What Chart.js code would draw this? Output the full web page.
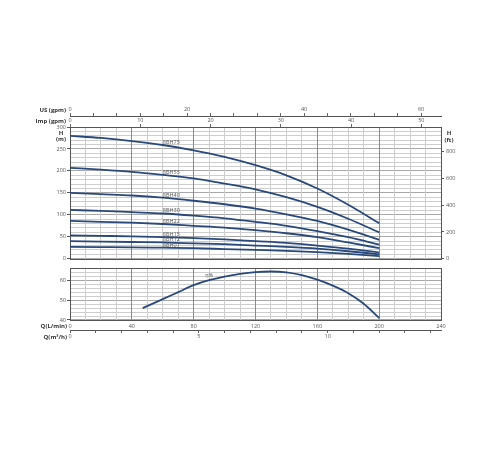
<!DOCTYPE html>
<html>
<head>
<meta charset="utf-8">
<script src="https://cdn.jsdelivr.net/npm/chart.js@4.4.1/dist/chart.umd.min.js"></script>
<style>
  html, body { margin: 0; padding: 0; background: #fff; }
  .box { position: absolute; left: 0; width: 500px; }
</style>
</head>
<body>
<div class="box" style="top:0;height:264px"><canvas id="head"></canvas></div>
<div class="box" style="top:264px;height:186px"><canvas id="eff"></canvas></div>
<script>
// flow points (L/min) where the head curves were read
const flow = [0, 20, 40, 60, 80, 100, 120, 140, 160, 180, 200];

const models = ["8BH75", "8BH55", "8BH40", "8BH30", "8BH22", "8BH15", "8BH12", "8BH07"];
const head75 = [280, 275, 268, 259, 247, 232, 213, 190, 160, 123, 81];
const head55 = [207, 203, 198, 191, 183, 171, 158, 140, 118, 91, 60];
const head40 = [150, 147, 144, 139, 132, 124, 114, 101, 86, 66, 43];
const head30 = [111, 109, 106, 103, 98, 92, 84, 75, 63, 49, 32];
const head22 = [86, 84, 82, 79, 75, 71, 65, 58, 49, 37, 24];
const head15 = [53, 52, 51, 49, 47, 44, 40, 36, 30, 23, 14];
const head12 = [40, 39, 38, 37, 35, 33, 30, 27, 23, 17, 10];
const head07 = [27, 26.5, 26, 25, 24, 22, 20, 18, 15, 11, 6];
const heads = [head75, head55, head40, head30, head22, head15, head12, head07];

// efficiency curve
const effFlow = [47, 60, 70, 80, 90, 100, 110, 120, 130, 140, 150, 160, 170, 180, 190, 200];
const effValues = [46, 50.5, 54, 57.5, 60, 61.8, 63.2, 64.1, 64.4, 64, 62.6, 60.3, 57.3, 53.5, 48.2, 41];

// tick labels of the feet axis
const feetTicks = [0, 200, 400, 600, 800];

// unit conversions for the secondary axes
const L_PER_USG = 3.78541;
const L_PER_IMPG = 4.54609;
const M_PER_FT = 0.3048;
const QMAX = 240;
const HMAX = 300;

const lineColor = "#29497a";
const tickFont = { family: "'Open Sans', sans-serif", size: 5.5 };
const tickColor = "#555";
const minorGrid = "#cdcdcd";
const majorGrid = "#8a8a8a";

const fixedWidth = (w) => (s) => { s.width = w; };
const fixedHeight = (h) => (s) => { s.height = h; };

// draws plot frame and the axis names that sit beside the axes
const frame = {
  id: "frame",
  beforeDatasetsDraw(chart, args, opts) {
    const { ctx, chartArea: a } = chart;
    ctx.save();
    ctx.strokeStyle = "#555";
    ctx.lineWidth = 1;
    ctx.strokeRect(Math.round(a.left) + 0.5, Math.round(a.top) + 0.5,
      Math.round(a.right - a.left), Math.round(a.bottom - a.top));
    ctx.fillStyle = "#333";
    ctx.font = "bold 6px 'Open Sans', sans-serif";
    (opts.titles || []).forEach(t => {
      ctx.textAlign = t.align || "right";
      ctx.textBaseline = "middle";
      ctx.fillText(t.text, t.x(chart), t.y(chart));
    });
    ctx.restore();
  },
  afterDatasetsDraw(chart, args, opts) {
    if (!opts.curveLabels) return;
    const { ctx } = chart;
    ctx.save();
    ctx.fillStyle = "#555";
    ctx.font = "5.5px 'Open Sans', sans-serif";
    ctx.textBaseline = "alphabetic";
    chart.data.datasets.forEach((ds, i) => {
      const pt = chart.getDatasetMeta(i).data[opts.curveLabels.index];
      ctx.textAlign = opts.curveLabels.align;
      ctx.fillText(ds.label, pt.x + opts.curveLabels.dx, pt.y + opts.curveLabels.dy);
    });
    ctx.restore();
  }
};

const xGrid = (ctx) => (ctx.tick.value % 40 === 0 ? majorGrid : minorGrid);

new Chart(document.getElementById("head"), {
  type: "line",
  data: {
    datasets: models.map((m, i) => ({
      label: m,
      data: flow.map((q, j) => ({ x: q, y: heads[i][j] })),
      borderColor: lineColor,
      borderWidth: 1.8,
      pointRadius: 0,
      cubicInterpolationMode: "monotone",
      xAxisID: "x",
      yAxisID: "y"
    }))
  },
  options: {
    responsive: true,
    maintainAspectRatio: false,
    animation: false,
    events: [],
    layout: { padding: { top: 105, bottom: 2, left: 0, right: 0 } },
    plugins: {
      legend: { display: false },
      tooltip: { enabled: false },
      frame: {
        titles: [
          { text: "US (gpm)", x: c => c.chartArea.left - 4, y: c => c.scales.us.bottom - 6 },
          { text: "Imp (gpm)", x: c => c.chartArea.left - 4, y: c => c.scales.imp.bottom - 6 },
          { text: "H", align: "center", x: c => c.chartArea.left - 9, y: c => c.chartArea.top + 6 },
          { text: "(m)", align: "center", x: c => c.chartArea.left - 9, y: c => c.chartArea.top + 12.5 },
          { text: "H", align: "center", x: c => c.chartArea.right + 8, y: c => c.chartArea.top + 6 },
          { text: "(ft)", align: "center", x: c => c.chartArea.right + 8, y: c => c.chartArea.top + 13 }
        ],
        curveLabels: { index: 3, dx: 0, dy: -1, align: "left" }
      }
    },
    scales: {
      y: {
        type: "linear", position: "left", min: 0, max: HMAX, z: -1,
        afterFit: fixedWidth(70),
        ticks: {
          stepSize: 10, autoSkip: false, padding: 1, font: tickFont, color: tickColor,
          callback: v => (v % 50 === 0 ? v : "")
        },
        grid: {
          color: c => (c.tick.value % 50 === 0 ? "#a8a8a8" : minorGrid),
          tickColor: c => (c.tick.value % 50 === 0 ? "#555" : "rgba(0,0,0,0)"),
          tickLength: 3
        },
        border: { display: false }
      },
      x: {
        type: "linear", position: "bottom", min: 0, max: QMAX,
        afterFit: fixedHeight(0),
        ticks: { display: false, stepSize: 10 },
        grid: { color: xGrid, drawTicks: false },
        border: { display: false }
      },
      imp: {
        type: "linear", position: "top", weight: 0, min: 0, max: QMAX / L_PER_IMPG,
        afterFit: fixedHeight(11),
        ticks: { stepSize: 10, includeBounds: false, autoSkip: false, maxRotation: 0, padding: 0, font: tickFont, color: tickColor },
        grid: { drawOnChartArea: false, tickLength: 3, color: "#666" },
        border: { display: false }
      },
      us: {
        type: "linear", position: "top", weight: 1, min: 0, max: QMAX / L_PER_USG,
        afterFit: fixedHeight(11),
        ticks: {
          stepSize: 4, includeBounds: false, autoSkip: false, maxRotation: 0, padding: 0,
          font: tickFont, color: tickColor,
          callback: v => (v % 20 === 0 ? v : "")
        },
        grid: { drawOnChartArea: false, tickLength: 3, color: "#666" },
        border: { display: true, color: "#555" }
      },
      yft: {
        type: "linear", position: "right", min: 0, max: HMAX / M_PER_FT,
        afterFit: fixedWidth(59),
        afterBuildTicks: s => { s.ticks = feetTicks.map(v => ({ value: v })); },
        ticks: { autoSkip: false, padding: 2, font: tickFont, color: tickColor },
        grid: { drawOnChartArea: false, tickLength: 3, color: "#555" },
        border: { display: false }
      }
    }
  },
  plugins: [frame]
});

new Chart(document.getElementById("eff"), {
  type: "line",
  data: {
    datasets: [{
      label: "η%",
      data: effFlow.map((q, j) => ({ x: q, y: effValues[j] })),
      borderColor: lineColor,
      borderWidth: 1.8,
      pointRadius: 0,
      cubicInterpolationMode: "monotone"
    }]
  },
  options: {
    responsive: true,
    maintainAspectRatio: false,
    animation: false,
    events: [],
    layout: { padding: { top: 1, bottom: 105, left: 0, right: 0 } },
    plugins: {
      legend: { display: false },
      tooltip: { enabled: false },
      frame: {
        titles: [
          { text: "Q(L/min)", x: c => c.chartArea.left - 3, y: c => c.chartArea.bottom + 6 },
          { text: "Q(m³/h)", x: c => c.chartArea.left - 3, y: c => c.scales.x2.top + 6 }
        ],
        curveLabels: { index: 4, dx: 0, dy: -3, align: "center" }
      }
    },
    scales: {
      y: {
        type: "linear", position: "left", min: 40, max: 66, z: -1,
        afterFit: fixedWidth(70),
        ticks: {
          stepSize: 2, autoSkip: false, padding: 1, font: tickFont, color: tickColor,
          callback: v => (v % 10 === 0 ? v : "")
        },
        grid: {
          color: c => (c.tick.value % 10 === 0 ? "#a8a8a8" : minorGrid),
          tickColor: c => (c.tick.value % 10 === 0 ? "#555" : "rgba(0,0,0,0)"),
          tickLength: 3
        },
        border: { display: false }
      },
      x: {
        type: "linear", position: "bottom", weight: 0, min: 0, max: QMAX,
        afterFit: fixedHeight(11),
        ticks: {
          stepSize: 10, autoSkip: false, maxRotation: 0, padding: 3, font: tickFont, color: tickColor,
          callback: v => (v % 40 === 0 ? v : "")
        },
        grid: { color: xGrid, drawTicks: false },
        border: { display: false }
      },
      x2: {
        type: "linear", position: "bottom", weight: 1, min: 0, max: QMAX * 60 / 1000,
        afterFit: fixedHeight(14),
        ticks: {
          stepSize: 1, includeBounds: false, autoSkip: false, maxRotation: 0, padding: 0,
          font: tickFont, color: tickColor,
          callback: v => (v % 5 === 0 ? v : "")
        },
        grid: { drawOnChartArea: false, tickLength: 2, color: "#666" },
        border: { display: true, color: "#555" }
      },
      yr: {
        type: "linear", position: "right", min: 40, max: 66,
        afterFit: fixedWidth(59),
        ticks: { display: false },
        grid: { drawOnChartArea: false, drawTicks: false },
        border: { display: false }
      }
    }
  },
  plugins: [frame]
});
</script>
</body>
</html>
